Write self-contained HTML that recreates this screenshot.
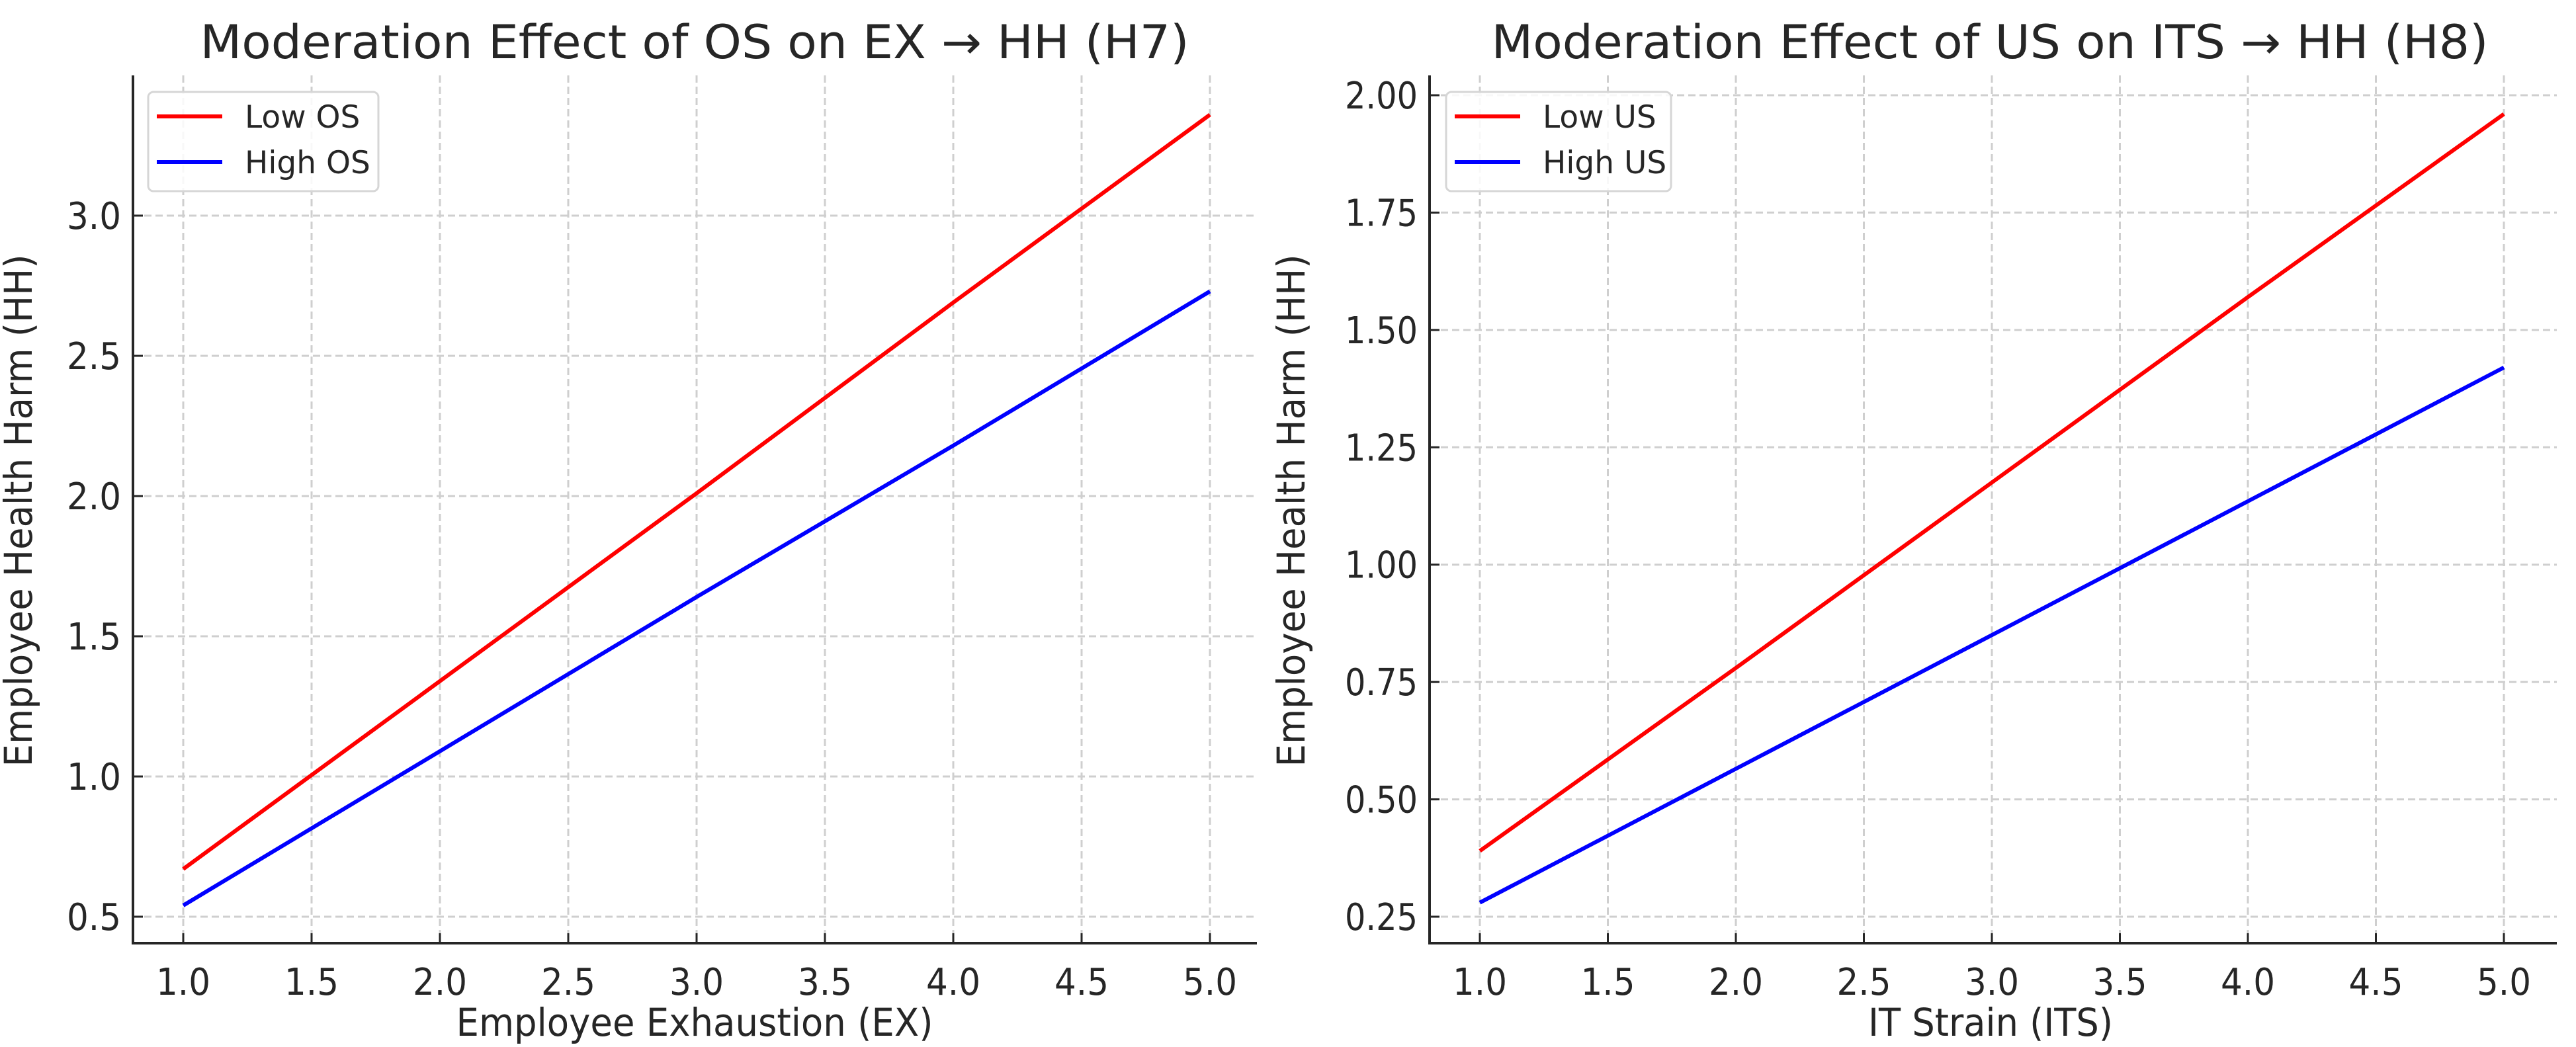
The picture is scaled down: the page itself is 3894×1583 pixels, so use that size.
<!DOCTYPE html>
<html><head><meta charset="utf-8"><style>
html,body{margin:0;padding:0;background:#fff;}
svg{display:block;font-family:"DejaVu Sans","Liberation Sans",sans-serif;}
</style></head><body>
<svg id="chart" width="3894" height="1583" viewBox="0 0 3894 1583" xmlns="http://www.w3.org/2000/svg"></svg>
<script>
// Data
const xValues = [1, 2, 3, 4, 5];
const xTicks = [1.0, 1.5, 2.0, 2.5, 3.0, 3.5, 4.0, 4.5, 5.0];
const h7Low = [0.67, 1.34, 2.01, 2.69, 3.36];
const h7High = [0.54, 1.09, 1.64, 2.18, 2.73];
const h7YTicks = [0.5, 1.0, 1.5, 2.0, 2.5, 3.0];
const h8Low = [0.39, 0.78, 1.175, 1.57, 1.96];
const h8High = [0.28, 0.565, 0.85, 1.135, 1.42];
const h8YTicks = [0.25, 0.50, 0.75, 1.00, 1.25, 1.50, 1.75, 2.00];

const NS = "http://www.w3.org/2000/svg";
const svg = document.getElementById('chart');
function mk(tag, attrs, parent, text) {
  const e = document.createElementNS(NS, tag);
  for (const k in attrs) e.setAttribute(k, attrs[k]);
  if (text !== undefined) e.textContent = text;
  (parent || svg).appendChild(e);
  return e;
}

function panel(cfg) {
  const g = mk('g', {});
  
  
  const xs = v => cfg.x1px + (v - 1) / 4 * (cfg.x5px - cfg.x1px);
  const ys = v => cfg.yApx + (v - cfg.yA) / (cfg.yB - cfg.yA) * (cfg.yBpx - cfg.yApx);
  cfg.xTicks.forEach(t => {
    const l = mk('line', {x1: xs(t), x2: xs(t), y1: cfg.top, y2: cfg.bottom, stroke: '#cfcfcf', 'stroke-width': 3, 'stroke-dasharray': '11,6'}, g);
    
    
  });
  cfg.yTicks.forEach(t => {
    const l = mk('line', {x1: cfg.left, x2: cfg.right, y1: ys(t), y2: ys(t), stroke: '#cfcfcf', 'stroke-width': 3, 'stroke-dasharray': '11,6'}, g);
    
    
  });
  [[cfg.low, '#ff0000', 'low-series-line'], [cfg.high, '#0000ff', 'high-series-line']].forEach(s => {
    const pts = xValues.map((x, i) => xs(x).toFixed(1) + ',' + ys(s[0][i]).toFixed(1)).join(' ');
    const p = mk('polyline', {points: pts, fill: 'none', stroke: s[1], 'stroke-width': 6}, g);
    
    
  });
  const sp1 = mk('line', {x1: cfg.left, x2: cfg.left, y1: cfg.top, y2: cfg.bottom + 2, stroke: '#262626', 'stroke-width': 4}, g);
  
  
  const sp2 = mk('line', {x1: cfg.left - 2, x2: cfg.right, y1: cfg.bottom, y2: cfg.bottom, stroke: '#262626', 'stroke-width': 4}, g);
  
  
  cfg.xTicks.forEach(t => {
    mk('line', {x1: xs(t), x2: xs(t), y1: cfg.bottom, y2: cfg.bottom - 15, stroke: '#262626', 'stroke-width': 3}, g);
    const tx = mk('text', {x: xs(t), y: cfg.bottom + 78, 'text-anchor': 'middle', 'font-size': 56, fill: '#262626', textLength: 82, lengthAdjust: 'spacingAndGlyphs'}, g, t.toFixed(1));
    
    
  });
  cfg.yTicks.forEach(t => {
    mk('line', {x1: cfg.left, x2: cfg.left + 15, y1: ys(t), y2: ys(t), stroke: '#262626', 'stroke-width': 3}, g);
    const s = t.toFixed(cfg.dec);
    const tx = mk('text', {x: cfg.left - 18, y: ys(t) + 20, 'text-anchor': 'end', 'font-size': 56, fill: '#262626', textLength: s.length === 3 ? 82 : 110, lengthAdjust: 'spacingAndGlyphs'}, g, s);
    
    
  });
  const ti = mk('text', {x: cfg.titleX, y: 88, 'text-anchor': 'middle', 'font-size': 70, fill: '#262626', textLength: cfg.titleW, lengthAdjust: 'spacingAndGlyphs'}, g, cfg.title);
  
  
  const xl = mk('text', {x: cfg.xlabX, y: 1566, 'text-anchor': 'middle', 'font-size': 58, fill: '#262626', textLength: cfg.xlabW, lengthAdjust: 'spacingAndGlyphs'}, g, cfg.xlab);
  
  
  const yl = mk('text', {x: 0, y: 0, 'text-anchor': 'middle', 'font-size': 58, fill: '#262626', textLength: 775, lengthAdjust: 'spacingAndGlyphs', transform: 'translate(' + (cfg.ylabX + 20) + ',772) rotate(-90)'}, g, 'Employee Health Harm (HH)');
  
  
  const lg = mk('g', {}, g);
  
  
  mk('rect', {x: cfg.legX, y: 139, width: cfg.legW, height: 150, rx: 8, fill: '#fff', 'fill-opacity': 0.85, stroke: '#d6d6d6', 'stroke-width': 3}, lg);
  [['Low ' + cfg.mod, '#ff0000', 176], ['High ' + cfg.mod, '#0000ff', 245]].forEach(e => {
    const eg = mk('g', {}, lg);
    
    
    mk('line', {x1: cfg.legX + 13, x2: cfg.legX + 112, y1: e[2], y2: e[2], stroke: e[1], 'stroke-width': 6}, eg);
    mk('text', {x: cfg.legX + 146, y: e[2] + 17, 'font-size': 47, fill: '#262626'}, eg, e[0]);
  });
}

panel({name: 'h7-panel', left: 201, right: 1900, top: 114, bottom: 1426,
  x1px: 277, x5px: 1829, yA: 0.5, yApx: 1386, yB: 3.0, yBpx: 326,
  low: h7Low, high: h7High, xTicks: xTicks, yTicks: h7YTicks, dec: 1,
  title: 'Moderation Effect of OS on EX \u2192 HH (H7)', titleX: 1050, titleW: 1495,
  xlab: 'Employee Exhaustion (EX)', xlabX: 1050, xlabW: 721, ylabX: 28,
  legX: 224, legW: 348, mod: 'OS'});
panel({name: 'h8-panel', left: 2161, right: 3865, top: 114, bottom: 1426,
  x1px: 2237, x5px: 3785, yA: 0.25, yApx: 1386, yB: 2.0, yBpx: 144,
  low: h8Low, high: h8High, xTicks: xTicks, yTicks: h8YTicks, dec: 2,
  title: 'Moderation Effect of US on ITS \u2192 HH (H8)', titleX: 3008, titleW: 1507,
  xlab: 'IT Strain (ITS)', xlabX: 3009, xlabW: 370, ylabX: 1952,
  legX: 2186, legW: 340, mod: 'US'});
</script>
</body></html>
